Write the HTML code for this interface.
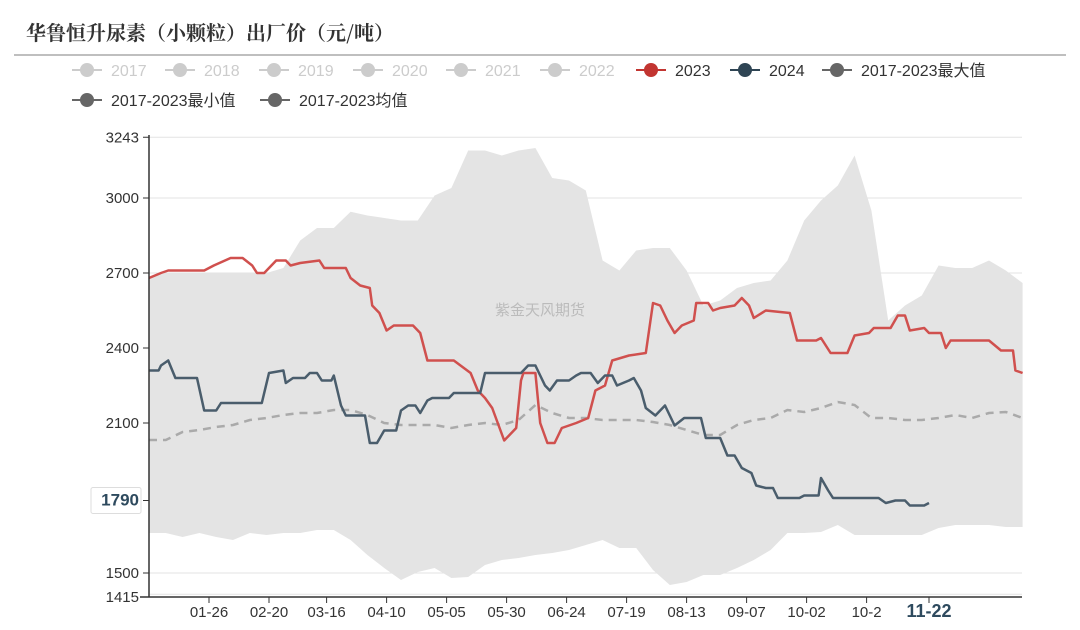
<!DOCTYPE html>
<html><head><meta charset="utf-8">
<style>
body{margin:0;background:#fff;width:1080px;height:630px;overflow:hidden;font-family:"Liberation Sans","Noto Sans CJK SC",sans-serif;}
svg{position:absolute;left:0;top:0}
</style></head>
<body>
<svg id="c" width="1080" height="630"></svg>
<script>
const bandDays=[0,7,14,21,28,35,42,49,56,63,70,77,84,91,98,105,112,119,126,133,140,147,154,161,168,175,182,189,196,203,210,217,224,231,238,245,252,259,266,273,280,287,294,301,308,315,322,329,336,343,350,357,364];
const maxVals=[2680,2700,2700,2700,2700,2700,2700,2700,2720,2830,2880,2880,2945,2930,2920,2910,2910,3010,3040,3190,3190,3170,3190,3200,3080,3070,3030,2750,2710,2790,2800,2800,2710,2570,2590,2640,2660,2670,2750,2910,2990,3050,3170,2950,2510,2570,2610,2730,2720,2720,2750,2710,2660];
const minVals=[1660,1660,1644,1660,1644,1632,1660,1652,1660,1660,1672,1672,1632,1572,1520,1472,1504,1520,1480,1484,1532,1552,1560,1572,1580,1592,1612,1632,1600,1600,1512,1452,1464,1492,1492,1520,1552,1592,1660,1660,1664,1692,1652,1652,1652,1652,1652,1680,1692,1692,1692,1684,1684];
const avgVals=[2032,2032,2064,2072,2084,2092,2112,2120,2132,2140,2140,2152,2152,2132,2100,2092,2092,2092,2080,2092,2100,2092,2112,2172,2140,2120,2120,2112,2112,2112,2104,2092,2072,2052,2052,2092,2112,2120,2152,2144,2160,2184,2172,2120,2120,2112,2112,2120,2132,2120,2140,2144,2120];
const redDays=[0,5,8,23,27,34,39,43,45,48,53,57,59,63,71,73,82,84,88,92,93,96,99,102,110,113,116,127,134,137,140,143,148,153,155,156,161,163,166,169,172,178,183,186,190,193,200,207,210,213,216,219,222,227,228,233,235,238,244,247,250,252,257,267,270,278,280,284,291,294,300,302,309,312,315,317,323,325,330,332,334,350,355,360,361,364];
const redVals=[2680,2700,2710,2710,2730,2760,2760,2730,2700,2700,2750,2750,2730,2740,2750,2720,2720,2680,2650,2640,2570,2540,2470,2490,2490,2460,2350,2350,2300,2230,2200,2160,2030,2080,2270,2300,2300,2100,2020,2020,2080,2100,2120,2230,2250,2350,2370,2380,2580,2570,2510,2460,2490,2510,2580,2580,2550,2560,2570,2600,2570,2520,2550,2540,2430,2430,2440,2380,2380,2450,2460,2480,2480,2530,2530,2470,2480,2460,2460,2400,2430,2430,2390,2390,2310,2300];
const blueDays=[0,4,5,8,11,20,23,28,30,47,50,56,57,60,65,67,70,72,76,77,80,82,90,92,95,98,103,105,108,111,113,116,118,125,127,138,140,155,158,161,163,165,167,170,175,178,180,184,187,190,193,195,200,202,205,207,211,215,217,219,223,230,232,238,241,244,247,251,253,257,260,262,271,273,279,280,283,285,304,307,311,315,317,323,325];
const blueVals=[2310,2310,2330,2350,2280,2280,2150,2150,2180,2180,2300,2310,2260,2280,2280,2300,2300,2270,2270,2290,2170,2130,2130,2020,2020,2070,2070,2150,2170,2170,2140,2190,2200,2200,2220,2220,2300,2300,2330,2330,2290,2250,2230,2270,2270,2290,2300,2300,2260,2290,2290,2250,2270,2280,2230,2160,2130,2170,2130,2090,2120,2120,2040,2040,1970,1970,1920,1900,1850,1840,1840,1800,1800,1810,1810,1880,1830,1800,1800,1780,1790,1790,1770,1770,1780];
const yTicks=[1415,1500,1790,2100,2400,2700,3000,3243];
const xTickDays=[25,50,74,99,124,149,174,199,224,249,274,299,325];
const xTickLabels=["01-26","02-20","03-16","04-10","05-05","05-30","06-24","07-19","08-13","09-07","10-02","10-2","11-22"];

const NS="http://www.w3.org/2000/svg";
const svg=document.getElementById('c');
const X=d=>149+d*2.4;
const Y=v=>198+(3000-v)*0.25;
function mk(t,a,p){const e=document.createElementNS(NS,t);for(const k in a)e.setAttribute(k,a[k]);(p||svg).appendChild(e);return e;}

// title
let t=mk('text',{x:26,y:40,'font-size':20,'font-weight':'bold',fill:'#333','font-family':'"Noto Serif CJK SC","Liberation Serif",serif'});
t.textContent='华鲁恒升尿素（小颗粒）出厂价（元/吨）';


let hl=mk('line',{x1:14,x2:1066,y1:55,y2:55,stroke:'#aaa','stroke-width':1.5});



// gridlines
yTicks.forEach(v=>{
  const g=mk('line',{x1:149,x2:1022,y1:Y(v),y2:Y(v),stroke:'#e3e3e3','stroke-width':1});
  
  
});

// band
let pts=bandDays.map((d,i)=>X(d)+','+Y(maxVals[i]));
for(let i=bandDays.length-1;i>=0;i--)pts.push(X(bandDays[i])+','+Y(minVals[i]));
let band=mk('polygon',{points:pts.join(' '),fill:'#e4e4e4'});



// watermark
let wm=mk('text',{x:540,y:315,'font-size':15,fill:'#bbb','text-anchor':'middle'});
wm.textContent='紫金天风期货';



// avg
let avg=mk('polyline',{points:bandDays.map((d,i)=>X(d)+','+Y(avgVals[i])).join(' '),fill:'none',stroke:'#aaa','stroke-width':2.5,'stroke-dasharray':'8,6'});



let red=mk('polyline',{points:redDays.map((d,i)=>X(d)+','+Y(redVals[i])).join(' '),fill:'none',stroke:'#d0504e','stroke-width':2.5,'stroke-linejoin':'round'});


let blue=mk('polyline',{points:blueDays.map((d,i)=>X(d)+','+Y(blueVals[i])).join(' '),fill:'none',stroke:'#4a5d6c','stroke-width':2.5,'stroke-linejoin':'round'});



// axes
let ya=mk('line',{x1:149,x2:149,y1:135,y2:597,stroke:'#333','stroke-width':1.5});


let xa=mk('line',{x1:140,x2:1022,y1:597,y2:597,stroke:'#333','stroke-width':1.5});



yTicks.forEach(v=>{
  const y=v===1415?597:Y(v);
  mk('line',{x1:143,x2:149,y1:y,y2:y,stroke:'#333'});
  if(v===1790){
    const r=mk('rect',{x:91,y:y-13,width:50,height:26,fill:'#fff',stroke:'#ddd',rx:2});
    
    
  }
  const l=mk('text',{x:139,y:y+5,'font-size':v===1790?17:15,'font-weight':v===1790?'bold':'normal',fill:v===1790?'#2e4a5e':'#333','text-anchor':'end'});
  l.textContent=v;
  
  
});
xTickDays.forEach((d,i)=>{
  mk('line',{x1:X(d),x2:X(d),y1:597,y2:603,stroke:'#333'});
  const last=i===xTickDays.length-1;
  const l=mk('text',{x:X(d),y:617,'font-size':last?18:15,'font-weight':last?'bold':'normal',fill:last?'#2e4a5e':'#333','text-anchor':'middle'});
  l.textContent=xTickLabels[i];
  
  
});

// legend
const legNames=["2017","2018","2019","2020","2021","2022","2023","2024","2017-2023最大值","2017-2023最小值","2017-2023均值"];
const legX=[72,165,259,353,446,540,636,730,822,72,260];
const legY=[70,70,70,70,70,70,70,70,70,100,100];
const legC=["#ccc","#ccc","#ccc","#ccc","#ccc","#ccc","#c23531","#2f4554","#666","#666","#666"];
legNames.forEach((n,i)=>{
  const g=mk('g',{});
  
  
  mk('line',{x1:legX[i],x2:legX[i]+30,y1:legY[i],y2:legY[i],stroke:legC[i],'stroke-width':2},g);
  mk('circle',{cx:legX[i]+15,cy:legY[i],r:7,fill:legC[i]},g);
  const tx=mk('text',{x:legX[i]+39,y:legY[i]+6,'font-size':16,fill:i<6?'#ccc':'#333'},g);
  tx.textContent=n;
});
</script>
</body></html>
